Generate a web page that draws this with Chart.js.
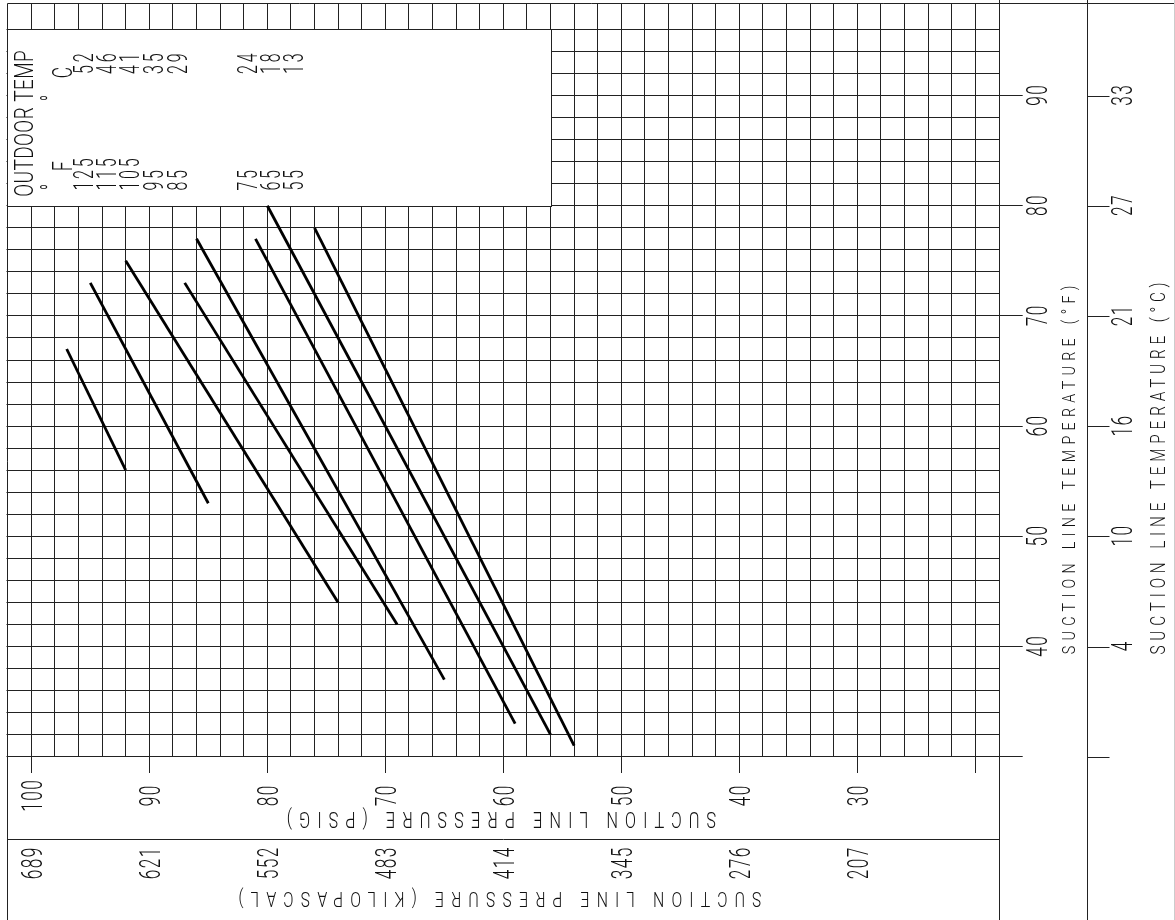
<!DOCTYPE html>
<html>
<head>
<meta charset="utf-8">
<script src="https://cdn.jsdelivr.net/npm/chart.js@4.4.1/dist/chart.umd.min.js"></script>
<style>
  html, body { margin: 0; padding: 0; background: #fff; }
  canvas { display: block; }
</style>
</head>
<body>
<canvas id="chart" width="1175" height="920"></canvas>
<script>
// outdoor temperature of each curve
const outdoorF = [125, 115, 105, 95, 85, 75, 65, 55];
const outdoorC = ["52", "46", "41", "35", "29", "24", "18", "13"];

// curve end points: suction line pressure (psig) / suction line temp (F)
const startPsig = [97, 95, 92, 87, 86, 81, 80, 76];
const startTemp = [67, 73, 75, 73, 77, 77, 80, 78];
const endPsig = [92, 85, 74, 69, 65, 59, 56, 54];
const endTemp = [56, 53, 44, 42, 37, 33, 32, 31];

// axis labels
const psigLabels = [100, 90, 80, 70, 60, 50, 40, 30];
const kpaLabels = ["689", "621", "552", "483", "414", "345", "276", "207"];
const tempFLabels = [90, 80, 70, 60, 50, 40];
const tempCLabels = ["33", "27", "21", "16", "10", "4"];

const FONT = "Roboto, 'Liberation Sans', sans-serif";
const WEIGHT = "300";
const INK = "#111";
const GRID = "#222";

// grid every 2 psig / 2 F
const gridPsig = [];
for (let v = 18; v <= 100; v += 2) gridPsig.push(v);
const gridTemp = [];
for (let v = 30; v <= 96; v += 2) gridTemp.push(v);

let capRatio = 0.71;
(function () {
  const c = document.createElement("canvas").getContext("2d");
  c.font = WEIGHT + " 100px " + FONT;
  const m = c.measureText("H");
  if (m.actualBoundingBoxAscent) capRatio = m.actualBoundingBoxAscent / 100;
})();

// fixed-pitch text: cap height, advance per char, horizontal squeeze
function drawText(ctx, str, x, y, rot, o) {
  ctx.save();
  ctx.translate(x, y);
  ctx.rotate(rot);
  ctx.scale(o.sx, 1);
  ctx.font = WEIGHT + " " + (o.cap / capRatio).toFixed(2) + "px " + FONT;
  ctx.fillStyle = INK;
  ctx.textAlign = "left";
  ctx.textBaseline = "alphabetic";
  ctx.letterSpacing = "0px";
  const w0 = ctx.measureText(str).width;
  const total = str.length * o.adv;
  const ls = (total / o.sx - w0) / str.length;
  ctx.letterSpacing = ls + "px";
  const start = o.align === "center" ? -total / 2 : o.align === "end" ? -total : 0;
  ctx.fillText(str, start / o.sx + ls / 2, 0);
  ctx.restore();
}

function line(ctx, x1, y1, x2, y2, color) {
  ctx.beginPath();
  ctx.moveTo(x1, y1);
  ctx.lineTo(x2, y2);
  ctx.strokeStyle = color || GRID;
  ctx.lineWidth = 1;
  ctx.stroke();
}

const UP = -Math.PI / 2;
const FLIP = Math.PI;

const decor = {
  id: "decor",
  beforeDatasetsDraw(chart) {
    // legend box over the grid
    const { ctx, chartArea: a, scales: { x, y } } = chart;
    const xr = Math.round(x.getPixelForValue(56)) + 0.5;
    const yt = Math.round(y.getPixelForValue(96)) + 0.5;
    const yb = Math.round(y.getPixelForValue(80)) + 0.5;
    const xl = Math.round(a.left) + 0.5;
    ctx.save();
    ctx.fillStyle = "#fff";
    ctx.fillRect(xl, yt, xr - xl, yb - yt);
    ctx.strokeStyle = GRID;
    ctx.lineWidth = 1;
    ctx.strokeRect(xl, yt, xr - xl, yb - yt);
    ctx.restore();
  },
  afterDraw(chart) {
    const { ctx, chartArea: a, scales: { x, y } } = chart;
    const L = Math.round(a.left) + 0.5;
    const R = Math.round(a.right) + 0.5;
    const T = Math.round(a.top) + 0.5;
    const cAxis = 1087.5;
    ctx.save();
    // frame
    line(ctx, L, T, L, 920);
    line(ctx, L, T, 1175, T);
    line(ctx, R, 0, R, 920);
    line(ctx, cAxis, 0, cAxis, 920);
    line(ctx, L, 839.5, R, 839.5);
    line(ctx, 1174.5, 0, 1174.5, 920, "#ccc");

    // celsius ticks
    for (let v = 30; v <= 90; v += 10) {
      const py = Math.round(y.getPixelForValue(v)) + 0.5;
      line(ctx, cAxis, py, cAxis + 22, py);
    }

    const digit = { cap: 20.5, adv: 11, sx: 0.6, align: "center" };
    psigLabels.forEach((v, i) => {
      const px = x.getPixelForValue(v);
      drawText(ctx, String(v), px + 10.5, 796, UP, digit);
      drawText(ctx, kpaLabels[i], px + 10.5, 863.5, UP, digit);
    });
    tempFLabels.forEach((v, i) => {
      const py = y.getPixelForValue(v);
      drawText(ctx, String(v), 1046.5, py, UP, digit);
      drawText(ctx, tempCLabels[i], 1132, py, UP, digit);
    });

    // axis titles
    drawText(ctx, "SUCTION LINE TEMPERATURE (°F)", 1075, 657, UP,
      { cap: 13.5, adv: 12.9, sx: 0.75, align: "start" });
    drawText(ctx, "SUCTION LINE TEMPERATURE (°C)", 1164.5, 657, UP,
      { cap: 14.5, adv: 13, sx: 0.75, align: "start" });
    drawText(ctx, "SUCTION LINE PRESSURE (PSIG)", 501.5, 811.5, FLIP,
      { cap: 15.5, adv: 15.6, sx: 0.75, align: "center" });
    drawText(ctx, "SUCTION LINE PRESSURE (KILOPASCAL)", 500, 891.5, FLIP,
      { cap: 15, adv: 15.6, sx: 0.75, align: "center" });

    // legend
    drawText(ctx, "OUTDOOR TEMP", 33, 197, UP, { cap: 18, adv: 12.25, sx: 0.75, align: "start" });
    const unit = { cap: 19, adv: 11.7, sx: 0.65, align: "center" };
    drawText(ctx, "°", 61, 187, UP, unit);
    drawText(ctx, "F", 72, 166, UP, unit);
    drawText(ctx, "°", 61, 98, UP, unit);
    drawText(ctx, "C", 72, 72.5, UP, unit);
    const colBase = [93, 115.5, 138.5, 163, 187, 257, 280, 303];
    const num = { cap: 19, adv: 11.7, sx: 0.6, align: "start" };
    outdoorF.forEach((t, i) => {
      drawText(ctx, String(t), colBase[i], 192, UP, num);
      drawText(ctx, outdoorC[i], colBase[i], 52, UP, Object.assign({}, num, { align: "end" }));
    });
    ctx.restore();
  }
};

const datasets = outdoorF.map((t, i) => ({
  label: t + " °F",
  data: [{ x: startPsig[i], y: startTemp[i] }, { x: endPsig[i], y: endTemp[i] }],
  showLine: true,
  borderColor: "#000",
  borderWidth: 2.8,
  pointRadius: 0,
  fill: false
}));

const majorTick = c => (c.tick && c.tick.value % 10 === 0) ? GRID : "rgba(0,0,0,0)";

new Chart(document.getElementById("chart"), {
  type: "scatter",
  data: { datasets },
  options: {
    responsive: false,
    animation: false,
    devicePixelRatio: 1,
    layout: { padding: { left: 6.5, top: 3, right: 152.3, bottom: 147 } },
    plugins: { legend: { display: false }, tooltip: { enabled: false } },
    scales: {
      x: {
        type: "linear",
        reverse: true,
        min: 18,
        max: 102.1,
        afterBuildTicks: s => { s.ticks = gridPsig.map(v => ({ value: v })); },
        ticks: { display: false },
        grid: { color: GRID, lineWidth: 1, drawTicks: true, tickLength: 16.3, tickColor: majorTick },
        border: { display: false }
      },
      y: {
        type: "linear",
        position: "right",
        min: 30,
        max: 98.4,
        afterBuildTicks: s => { s.ticks = gridTemp.map(v => ({ value: v })); },
        ticks: { display: false },
        grid: { color: GRID, lineWidth: 1, drawTicks: true, tickLength: 23.7, tickColor: majorTick },
        border: { display: false }
      }
    }
  },
  plugins: [decor]
});
</script>
</body>
</html>
